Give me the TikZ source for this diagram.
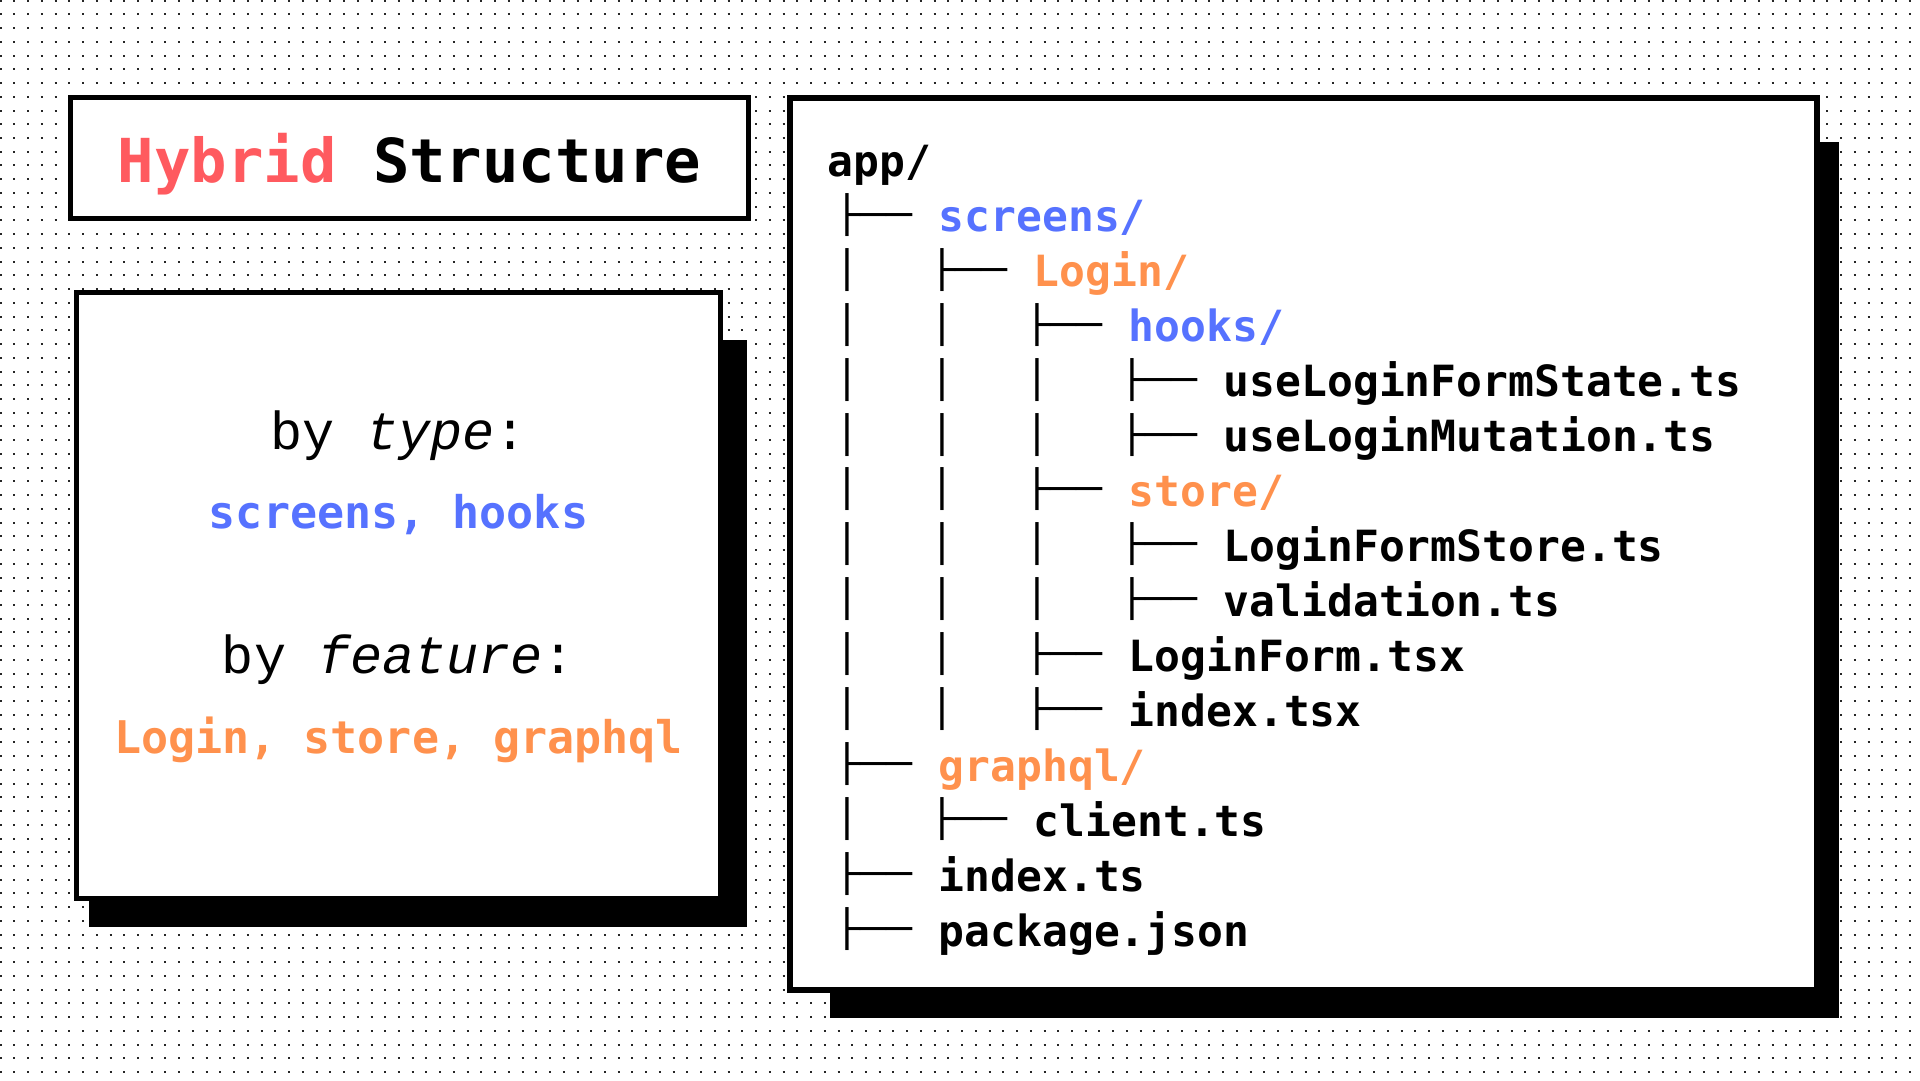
\documentclass[tikz,border=0pt]{standalone}
\usepackage{fontspec}
\usepackage{graphicx}
\newfontfamily\dvm{DejaVu Sans Mono}
\newfontfamily\lmono{Liberation Mono}
\definecolor{hred}{HTML}{FF5A5F}
\definecolor{hblue}{HTML}{5672FF}
\definecolor{horange}{HTML}{FF914D}
\newcommand\trow[4]{%
  \pgfmathsetmacro\yr{159.7+54.97*#1}%
  \pgfmathsetmacro\yb{176.7+54.97*#1}%
  \pgfmathsetmacro\xg{847+95*(#2-1)-12.94}%
  \pgfmathsetmacro\xt{938.5+95*(#2-1)}%
  \node[treeglyph] (g#1) at (\xg,\yr) {\resizebox*{\width}{43pt}{├──}};
  \node[treetxt,text=#3] (r#1) at (\xt,\yb) {#4};
}
\newcommand\tbar[2]{%
  \pgfmathsetmacro\yr{159.7+54.97*#1}%
  \pgfmathsetmacro\xg{847+95*#2-12.94}%
  \node[treeglyph] (v#1-#2) at (\xg,\yr) {\resizebox*{\width}{43pt}{│}};
}
\begin{document}
\begin{tikzpicture}[x=1pt,y=-1pt,
  dotrow/.style={line width=2pt, dash pattern=on 2pt off 11.735pt, black!85},
  frame/.style={draw=black, fill=white, line width=5pt},
  shadowbox/.style={fill=black},
  treetxt/.style={anchor=base west, inner sep=0pt, font=\dvm\bfseries\fontsize{43pt}{50pt}\selectfont},
  treeglyph/.style={anchor=west, inner sep=0pt, font=\dvm\fontsize{43pt}{50pt}\selectfont},
  centertxt/.style={anchor=base, inner sep=0pt},
  plainfont/.style={font=\lmono\fontsize{53.5pt}{60pt}\selectfont},
  boldfont/.style={font=\dvm\bfseries\fontsize{45pt}{52pt}\selectfont}
]
\fill[white] (0,0) rectangle (1920,1080);
\useasboundingbox (0,0) rectangle (1920,1080);
% dotted background
\foreach \j in {0,...,78}{
  \draw[dotrow] (-0.33,{0.67+13.735*\j}) -- (1922,{0.67+13.735*\j});
}
% shadows
\fill[shadowbox] (89,340) rectangle (747,927);
\fill[shadowbox] (830,142) rectangle (1839,1018);
% boxes
\draw[frame] (70.5,97.5) rectangle (748.5,218.5);
\draw[frame] (76.5,292.5) rectangle (720.5,898.5);
\draw[frame, line width=6pt] (790,98) rectangle (1817,990);
% title
\node[centertxt, font=\dvm\bfseries\fontsize{60.6pt}{70pt}\selectfont] (title) at (409.5,182) {\textcolor{hred}{Hybrid} Structure};
% left box texts
\node[centertxt, plainfont] (bytype) at (398.5,449) {by \textit{type}:};
\node[centertxt, boldfont, text=hblue] (typelist) at (398.5,528) {screens, hooks};
\node[centertxt, plainfont] (byfeature) at (398.5,673) {by \textit{feature}:};
\node[centertxt, boldfont, text=horange] (featlist) at (398.5,753) {Login, store, graphql};
% tree
\node[treetxt] (r0) at (827.5,176.7) {app/};
\trow{1}{1}{hblue}{screens/}
\tbar{2}{0}\trow{2}{2}{horange}{Login/}
\tbar{3}{0}\tbar{3}{1}\trow{3}{3}{hblue}{hooks/}
\tbar{4}{0}\tbar{4}{1}\tbar{4}{2}\trow{4}{4}{black}{useLoginFormState.ts}
\tbar{5}{0}\tbar{5}{1}\tbar{5}{2}\trow{5}{4}{black}{useLoginMutation.ts}
\tbar{6}{0}\tbar{6}{1}\trow{6}{3}{horange}{store/}
\tbar{7}{0}\tbar{7}{1}\tbar{7}{2}\trow{7}{4}{black}{LoginFormStore.ts}
\tbar{8}{0}\tbar{8}{1}\tbar{8}{2}\trow{8}{4}{black}{validation.ts}
\tbar{9}{0}\tbar{9}{1}\trow{9}{3}{black}{LoginForm.tsx}
\tbar{10}{0}\tbar{10}{1}\trow{10}{3}{black}{index.tsx}
\trow{11}{1}{horange}{graphql/}
\tbar{12}{0}\trow{12}{2}{black}{client.ts}
\trow{13}{1}{black}{index.ts}
\trow{14}{1}{black}{package.json}
\end{tikzpicture}
\end{document}
